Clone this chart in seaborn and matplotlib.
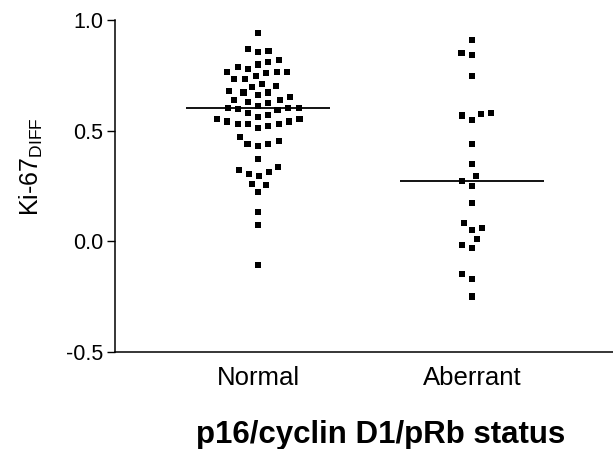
import numpy as np
import pandas as pd
import matplotlib
matplotlib.use("Agg")
import matplotlib.pyplot as plt
import seaborn as sns

categories = ["Normal", "Aberrant"]

normal_values = [
    0.943, 0.868, 0.862, 0.855, 0.82, 0.81, 0.80, 0.79, 0.78,
    0.767, 0.767, 0.767, 0.76, 0.748, 0.733, 0.733, 0.712, 0.703,
    0.70, 0.68, 0.673, 0.673, 0.662, 0.652, 0.64, 0.64, 0.632,
    0.625, 0.613, 0.602, 0.602, 0.602, 0.598, 0.595, 0.58, 0.572,
    0.562, 0.553, 0.553, 0.542, 0.542, 0.532, 0.532, 0.532, 0.523,
    0.512, 0.474, 0.452, 0.441, 0.441, 0.432, 0.372, 0.336, 0.324,
    0.312, 0.305, 0.294, 0.261, 0.254, 0.224, 0.134, 0.074, -0.107,
]
aberrant_values = [
    0.91, 0.85, 0.842, 0.748, 0.58, 0.577, 0.569, 0.55, 0.44,
    0.351, 0.294, 0.272, 0.252, 0.174, 0.084, 0.062, 0.051, 0.012,
    -0.018, -0.028, -0.149, -0.168, -0.249,
]
# median line of each group, as drawn in the figure
medians = [0.602, 0.272]

df = pd.DataFrame({
    "status": ["Normal"] * len(normal_values) + ["Aberrant"] * len(aberrant_values),
    "ki67": normal_values + aberrant_values,
})

sns.set_theme(style="ticks")
plt.rcParams["font.family"] = ["Liberation Sans", "DejaVu Sans"]
plt.rcParams["mathtext.default"] = "regular"

fig = plt.figure(figsize=(6.13, 4.49), dpi=100)
ax = fig.add_axes([0.1876, 0.216, 0.8124, 0.739])

# invisible edge widens the swarm spacing while keeping the squares small
sns.swarmplot(data=df, x="status", y="ki67", order=categories, marker="s",
              color="black", size=4.4, linewidth=2.9, edgecolor="none", ax=ax)

half = 0.336
for i, m in enumerate(medians):
    ax.hlines(m, i - half, i + half, color="black", lw=1.3, zorder=3)

ax.set_xlim(-0.668, 1.659)
ax.set_ylim(-0.5, 1.0)
ax.set_yticks([-0.5, 0.0, 0.5, 1.0])
ax.set_yticklabels(["-0.5", "0.0", "0.5", "1.0"])

sns.despine(ax=ax)
for s in ["left", "bottom"]:
    ax.spines[s].set_linewidth(1.1)
    ax.spines[s].set_color("black")

ax.tick_params(axis="y", length=5.5, width=1.0, pad=3, labelsize=15.5, colors="black")
ax.tick_params(axis="x", length=0, pad=10, labelsize=18.5, colors="black")

ax.set_ylabel("Ki-67$_{DIFF}$", fontsize=18, color="black")
ax.yaxis.set_label_coords(-0.14, 0.56)
ax.set_xlabel("p16/cyclin D1/pRb status", fontsize=22.5, fontweight="bold", color="black")
ax.xaxis.set_label_coords(0.534, -0.205)

fig.savefig("out.png", dpi=100)
